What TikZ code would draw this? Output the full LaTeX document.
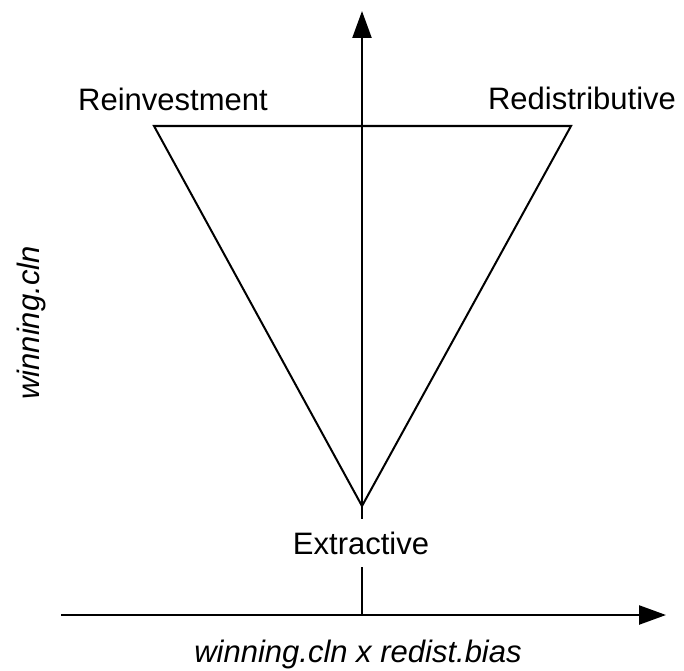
\documentclass[tikz,border=0pt]{standalone}
\usepackage{fontspec}
\setmainfont{Liberation Sans}
\usetikzlibrary{arrows.meta,positioning}

\begin{document}
\begin{tikzpicture}[
  x=1bp, y=-1bp,
  font=\fontsize{31bp}{36bp}\selectfont,
  axis/.style={line width=2.4bp, -{Triangle[length=27bp, width=19bp]}},
  edge/.style={line width=2bp, line join=miter},
  lbl/.style={inner sep=0pt, anchor=base}
]
\useasboundingbox (0,0) rectangle (684,671);

% axes
\coordinate (origin) at (362,615);
\coordinate (xstart) at (61,615);
\coordinate (xend) at (666,615);
\coordinate (yend) at (362,11);
\draw[axis] (xstart) -- (xend);
\draw[axis] (origin) -- (yend);

% triangle
\coordinate (reinv) at (154,126);
\coordinate (redist) at (571,126);
\coordinate (extr) at (362,506);
\draw[edge] (reinv) -- (redist) -- (extr) -- cycle;

% labels
\node[lbl] (reinvlbl) at (173,111) {Reinvestment};
\node[lbl] (redistlbl) at (582,110) {Redistributive};
\node[lbl, fill=white, text depth=0pt, inner xsep=2bp, inner ysep=13bp]
  (extrlbl) at (361,554) {Extractive};
\node[lbl, rotate=90] (ylbl) at (39,323) {\itshape winning.cln};
\node[lbl] (xlbl) at (358,662) {\itshape winning.cln x redist.bias};
\end{tikzpicture}
\end{document}
